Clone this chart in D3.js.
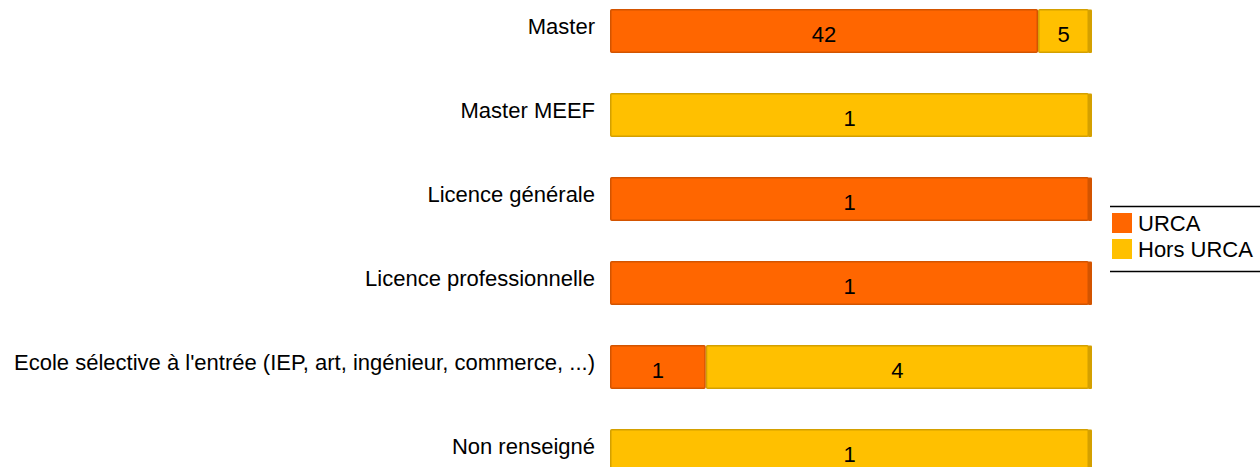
<!DOCTYPE html>
<html>
<head>
<meta charset="utf-8">
<script src="https://cdn.jsdelivr.net/npm/d3@7"></script>
<style>
  body { margin: 0; background: #fff; }
  text { font-family: "Liberation Sans", Arial, sans-serif; fill: #000; }
</style>
</head>
<body>
<div id="chart"></div>
<script>
const categories = [
  "Master",
  "Master MEEF",
  "Licence générale",
  "Licence professionnelle",
  "Ecole sélective à l'entrée (IEP, art, ingénieur, commerce, ...)",
  "Non renseigné"
];
const seriesNames = ["URCA", "Hors URCA"];
const urca = [42, 0, 1, 1, 1, 0];
const horsUrca = [5, 1, 0, 0, 4, 1];

const colors = ["#ff6600", "#ffc000"];
const strokes = ["#d35400", "#d4a000"];

const width = 1260, height = 467;

const svg = d3.select("#chart").append("svg")
    .attr("width", width)
    .attr("height", height);

const rows = categories.map((c, i) => ({ cat: c, vals: [urca[i], horsUrca[i]] }));

const x = d3.scaleLinear().domain([0, 1]).range([610, 1089]);
const y = d3.scaleBand()
    .domain(categories)
    .range([-11, 493])
    .paddingInner(40 / 84)
    .paddingOuter(20 / 84);

const segs = [];
rows.forEach(r => {
    const total = d3.sum(r.vals);
    let acc = 0;
    r.vals.forEach((v, k) => {
        if (v > 0) segs.push({ cat: r.cat, k, v, x0: acc / total, x1: (acc + v) / total });
        acc += v;
    });
});

const g = svg.append("g");

// darker right edge of each bar (shadow)
g.selectAll("rect.edge")
    .data(segs.filter(d => d.x1 === 1))
    .join("rect")
    .attr("class", "edge")
    .attr("x", x(1) - 1)
    .attr("y", d => y(d.cat) + 0.5)
    .attr("width", 4)
    .attr("height", y.bandwidth() - 0.5)
    .attr("rx", 1)
    .attr("fill", d => strokes[d.k]);

g.selectAll("rect.seg")
    .data(segs)
    .join("rect")
    .attr("class", "seg")
    .attr("x", d => x(d.x0) + 0.75)
    .attr("y", d => y(d.cat) + 0.75)
    .attr("width", d => x(d.x1) - x(d.x0) - 1.5)
    .attr("height", y.bandwidth() - 1.5)
    .attr("rx", 1)
    .attr("fill", d => colors[d.k])
    .attr("stroke", d => strokes[d.k])
    .attr("stroke-width", 1.5);

g.selectAll("text.val")
    .data(segs)
    .join("text")
    .attr("class", "val")
    .attr("x", d => (x(d.x0) + x(d.x1)) / 2)
    .attr("y", d => y(d.cat) + 33)
    .attr("text-anchor", "middle")
    .attr("font-size", 22)
    .text(d => d.v);

g.selectAll("text.cat")
    .data(categories)
    .join("text")
    .attr("class", "cat")
    .attr("x", 595)
    .attr("y", d => y(d) + 25)
    .attr("text-anchor", "end")
    .attr("font-size", 22)
    .text(d => d);

// legend
const lg = svg.append("g");
lg.append("line").attr("x1", 1110).attr("x2", 1260).attr("y1", 206.5).attr("y2", 206.5)
    .attr("stroke", "#000").attr("stroke-width", 1.5);
lg.append("line").attr("x1", 1110).attr("x2", 1260).attr("y1", 271.5).attr("y2", 271.5)
    .attr("stroke", "#000").attr("stroke-width", 1.5);
const items = lg.selectAll("g.item")
    .data(seriesNames)
    .join("g")
    .attr("class", "item")
    .attr("transform", (d, i) => `translate(1112,${213 + i * 26})`);
items.append("rect")
    .attr("width", 20).attr("height", 20)
    .attr("fill", (d, i) => colors[i]);
items.append("text")
    .attr("x", 26).attr("y", 18)
    .attr("font-size", 22)
    .text(d => d);
</script>
</body>
</html>
